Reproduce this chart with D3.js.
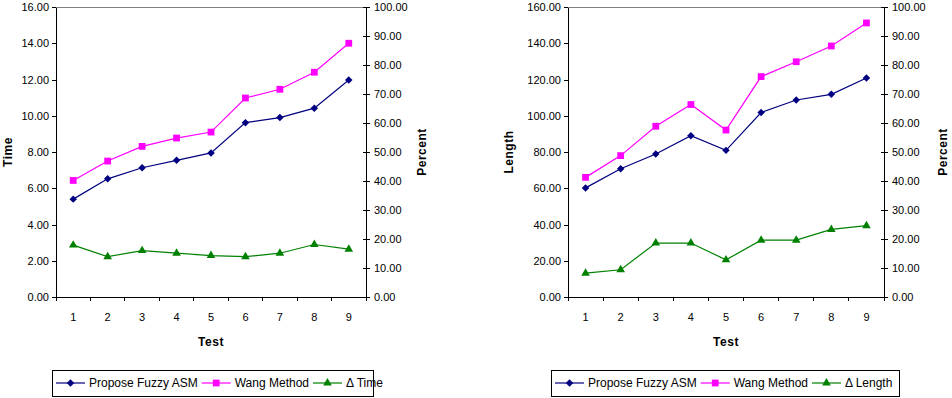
<!DOCTYPE html>
<html>
<head>
<meta charset="utf-8">
<script src="https://cdn.jsdelivr.net/npm/d3@7"></script>
<style>
  body { margin: 0; background: #fff; }
  svg { display: block; font-family: "Liberation Sans", Arial, sans-serif; }
  .axis path, .axis line { stroke: #000; shape-rendering: crispEdges; }
  .axis text { font-size: 11px; fill: #000; }
</style>
</head>
<body>
<svg id="chart"></svg>
<script>
// Total dimensions
var w = 952,
    h = 398;

// Data
var tests = [1, 2, 3, 4, 5, 6, 7, 8, 9];

var timeFuzzy = [5.40, 6.52, 7.13, 7.54, 7.95, 9.62, 9.90, 10.42, 11.97];
var timeWang  = [6.43, 7.50, 8.31, 8.77, 9.10, 10.98, 11.46, 12.40, 14.00];
var timeDelta = [17.9, 13.9, 16.0, 15.1, 14.3, 13.9, 15.1, 18.1, 16.5];

var lengthFuzzy = [60.2, 70.8, 78.9, 89.0, 80.9, 101.8, 108.7, 111.8, 120.8];
var lengthWang  = [66.0, 78.0, 94.2, 106.2, 92.1, 121.6, 129.8, 138.5, 151.2];
var lengthDelta = [8.2, 9.4, 18.6, 18.6, 12.8, 19.6, 19.6, 23.3, 24.6];

var timeTicks    = [0, 2, 4, 6, 8, 10, 12, 14, 16];
var lengthTicks  = [0, 20, 40, 60, 80, 100, 120, 140, 160];
var percentTicks = [0, 10, 20, 30, 40, 50, 60, 70, 80, 90, 100];

var colFuzzy = "#000080",
    colWang = "#ff00ff",
    colDelta = "#008000";

var svg = d3.select("#chart")
    .attr("width", w)
    .attr("height", h);

var fmt = d3.format(".2f");

var drawChart = function(opt) {
    var x0 = opt.left, x1 = opt.right, y0 = 7, y1 = 297;

    var xScale = d3.scaleBand()
	.domain(tests)
	.range([x0, x1])
	.padding(0);

    var yLeft = d3.scaleLinear()
	.domain([0, opt.leftMax])
	.range([y1, y0]);

    var yRight = d3.scaleLinear()
	.domain([0, 100])
	.range([y1, y0]);

    var g = svg.append("g");

    // plot area border
    g.append("rect")
	.attr("x", x0)
	.attr("y", y0)
	.attr("width", x1 - x0)
	.attr("height", y1 - y0)
	.attr("fill", "none")
	.attr("stroke", "#808080")
	.attr("shape-rendering", "crispEdges");

    // left axis
    g.append("g")
	.attr("class", "axis")
	.attr("transform", "translate(" + x0 + ",0)")
	.call(d3.axisLeft(yLeft).tickValues(opt.leftTicks).tickSize(4).tickSizeOuter(0).tickPadding(3).tickFormat(fmt));

    // right axis, ticks crossing the line
    var ra = g.append("g")
	.attr("class", "axis")
	.attr("transform", "translate(" + x1 + ",0)")
	.call(d3.axisRight(yRight).tickValues(percentTicks).tickSize(4).tickSizeOuter(0).tickPadding(4).tickFormat(fmt));
    ra.selectAll(".tick line").attr("x1", -3);

    // x axis: ticks between categories
    var xa = g.append("g")
	.attr("class", "axis")
	.attr("transform", "translate(0," + y1 + ")");
    xa.append("line")
	.attr("x1", x0).attr("x2", x1)
	.attr("y1", 0).attr("y2", 0)
	.attr("stroke", "#000")
	.attr("shape-rendering", "crispEdges");
    xa.selectAll(".sep")
	.data(tests.concat([null]))
	.enter().append("line")
	.attr("class", "sep")
	.attr("x1", function(d, i) { return x0 + i * xScale.step(); })
	.attr("x2", function(d, i) { return x0 + i * xScale.step(); })
	.attr("y1", 0).attr("y2", 4)
	.attr("stroke", "#000")
	.attr("shape-rendering", "crispEdges");
    xa.selectAll(".lbl")
	.data(tests)
	.enter().append("text")
	.attr("class", "lbl")
	.attr("x", function(d) { return xScale(d) + xScale.bandwidth() / 2; })
	.attr("y", 24)
	.attr("text-anchor", "middle")
	.attr("font-size", "12px")
	.text(function(d) { return d; });

    // series (diamond = square turned 45 degrees)
    var series = [
	{ values: opt.fuzzy, scale: yLeft, color: colFuzzy, sym: d3.symbolSquare, size: 28, rot: 45 },
	{ values: opt.wang, scale: yLeft, color: colWang, sym: d3.symbolSquare, size: 46, rot: 0 },
	{ values: opt.delta, scale: yRight, color: colDelta, sym: d3.symbolTriangle, size: 32, rot: 0 }
    ];

    series.forEach(function(s) {
	var line = d3.line()
	    .x(function(d, i) { return xScale(tests[i]) + xScale.bandwidth() / 2; })
	    .y(function(d) { return s.scale(d); });

	g.append("path")
	    .datum(s.values)
	    .attr("fill", "none")
	    .attr("stroke", s.color)
	    .attr("stroke-width", 1.2)
	    .attr("d", line);

	g.selectAll(null)
	    .data(s.values)
	    .enter().append("path")
	    .attr("transform", function(d, i) {
		return "translate(" + (xScale(tests[i]) + xScale.bandwidth() / 2) + "," + s.scale(d) + ") rotate(" + s.rot + ")";
	    })
	    .attr("d", d3.symbol().type(s.sym).size(s.size))
	    .attr("fill", s.color);
    });

    // axis titles
    g.append("text")
	.attr("transform", "translate(" + opt.leftTitleX + "," + ((y0 + y1) / 2) + ") rotate(-90)")
	.attr("text-anchor", "middle")
	.attr("dy", "0.35em")
	.attr("font-size", "12px")
	.attr("font-weight", "bold")
	.attr("letter-spacing", "0.5px")
	.text(opt.leftTitle);

    g.append("text")
	.attr("transform", "translate(" + opt.rightTitleX + "," + ((y0 + y1) / 2) + ") rotate(-90)")
	.attr("text-anchor", "middle")
	.attr("dy", "0.35em")
	.attr("font-size", "12px")
	.attr("font-weight", "bold")
	.attr("letter-spacing", "0.5px")
	.text("Percent");

    g.append("text")
	.attr("x", (x0 + x1) / 2)
	.attr("y", 342)
	.attr("dy", "0.35em")
	.attr("text-anchor", "middle")
	.attr("font-size", "12px")
	.attr("font-weight", "bold")
	.attr("letter-spacing", "0.5px")
	.text("Test");

    // legend
    var lg = g.append("g");
    lg.append("rect")
	.attr("x", opt.legendX)
	.attr("y", 370)
	.attr("width", opt.legendW)
	.attr("height", 26)
	.attr("fill", "#fff")
	.attr("stroke", "#000")
	.attr("shape-rendering", "crispEdges");

    var names = ["Propose Fuzzy ASM", "Wang Method", opt.deltaName];
    var cx = opt.legendX + 4;
    series.forEach(function(s, i) {
	var item = lg.append("g");
	item.append("line")
	    .attr("x1", cx).attr("x2", cx + 29)
	    .attr("y1", 383).attr("y2", 383)
	    .attr("stroke", s.color)
	    .attr("stroke-width", 1.2);
	item.append("path")
	    .attr("transform", "translate(" + (cx + 14.5) + ",383) rotate(" + s.rot + ")")
	    .attr("d", d3.symbol().type(s.sym).size(s.size))
	    .attr("fill", s.color);
	var t = item.append("text")
	    .attr("x", cx + 33)
	    .attr("y", 383)
	    .attr("dy", "0.35em")
	    .attr("font-size", "12px")
	    .text(names[i]);
	cx = cx + 33 + t.node().getComputedTextLength() + 4;
    });
};

drawChart({
    left: 56, right: 366,
    leftMax: 16, leftTicks: timeTicks,
    fuzzy: timeFuzzy, wang: timeWang, delta: timeDelta,
    leftTitle: "Time", leftTitleX: 8, rightTitleX: 422,
    legendX: 52, legendW: 321, deltaName: "\u0394 Time"
});

drawChart({
    left: 568, right: 884,
    leftMax: 160, leftTicks: lengthTicks,
    fuzzy: lengthFuzzy, wang: lengthWang, delta: lengthDelta,
    leftTitle: "Length", leftTitleX: 509, rightTitleX: 943,
    legendX: 551, legendW: 348, deltaName: "\u0394 Length"
});
</script>
</body>
</html>
